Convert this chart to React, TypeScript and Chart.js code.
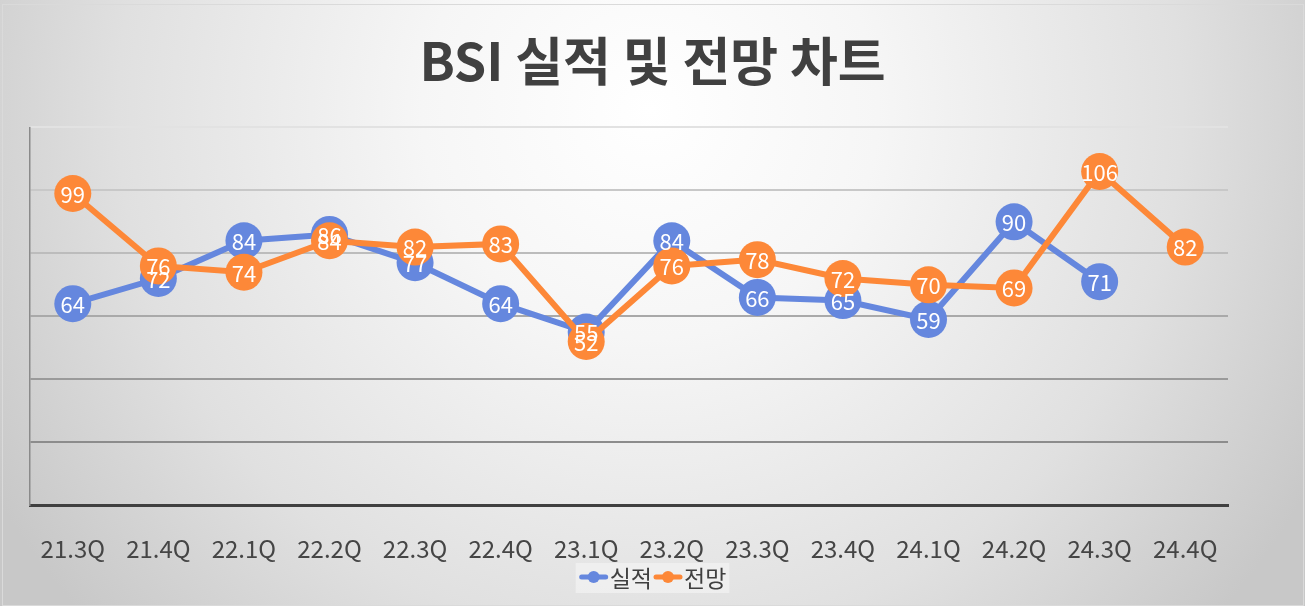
import React, { useEffect, useRef } from 'react';
import { Chart, registerables } from 'chart.js';

Chart.register(...registerables);

const titleText = 'BSI 실적 및 전망 차트';
const categories = ['21.3Q', '21.4Q', '22.1Q', '22.2Q', '22.3Q', '22.4Q', '23.1Q', '23.2Q', '23.3Q', '23.4Q', '24.1Q', '24.2Q', '24.3Q', '24.4Q'];
const seriesNames = ['실적', '전망'];
const actualValues: (number | null)[] = [64, 72, 84, 86, 77, 64, 55, 84, 66, 65, 59, 90, 71, null];
const forecastValues: (number | null)[] = [99, 76, 74, 84, 82, 83, 52, 76, 78, 72, 70, 69, 106, 82];
const yMin = 0;
const yMax = 120;
const yStep = 20;

const BLUE = '#6587DE';
const ORANGE = '#FD8838';
const FONT = "'Noto Sans CJK KR', 'Noto Sans', sans-serif";

const backgroundPlugin = {
  id: 'bgPlugin',
  beforeDraw(chart: any) {
    const { ctx, width, height } = chart;
    ctx.save();
    const grad = ctx.createRadialGradient(650, 110, 0, 650, 110, 760);
    grad.addColorStop(0, '#ffffff');
    grad.addColorStop(0.3, '#f6f6f6');
    grad.addColorStop(0.7, '#e0e0e0');
    grad.addColorStop(1, '#c8c8c8');
    ctx.fillStyle = grad;
    ctx.fillRect(0, 0, width, height);
    ctx.strokeStyle = '#dadada';
    ctx.lineWidth = 1;
    ctx.strokeRect(2.5, 4.5, width - 4, height - 5);
    ctx.restore();
  },
};

// custom legend: marker (line + circle) directly followed by series name
const legendPlugin = {
  id: 'customLegend',
  afterDraw(chart: any) {
    const ctx = chart.ctx;
    ctx.save();
    ctx.font = `23px ${FONT}`;
    const markW = 30;
    const cy = 577;
    const items = chart.data.datasets.map((ds: any) => ({
      label: ds.label as string,
      color: ds.borderColor as string,
      w: ctx.measureText(ds.label).width,
    }));
    const total = items.reduce((s: number, it: any) => s + markW + 1 + it.w + 1, 0);
    const cx = (chart.chartArea.left + chart.chartArea.right) / 2 + 24;
    let x = cx - total / 2;
    ctx.fillStyle = 'rgba(245,245,245,0.65)';
    ctx.fillRect(x - 3, cy - 14, total + 5, 30);
    ctx.textBaseline = 'middle';
    ctx.textAlign = 'left';
    for (const it of items) {
      ctx.strokeStyle = it.color;
      ctx.lineWidth = 5;
      ctx.lineCap = 'round';
      ctx.beginPath();
      ctx.moveTo(x + 3, cy);
      ctx.lineTo(x + markW - 3, cy);
      ctx.stroke();
      ctx.fillStyle = it.color;
      ctx.beginPath();
      ctx.arc(x + markW / 2, cy, 6, 0, Math.PI * 2);
      ctx.fill();
      x += markW + 1;
      ctx.fillStyle = '#404040';
      ctx.fillText(it.label, x, cy + 1);
      x += it.w + 1;
    }
    ctx.restore();
  },
};

const labelPlugin = {
  id: 'pointLabels',
  afterDatasetsDraw(chart: any) {
    const ctx = chart.ctx;
    ctx.save();
    ctx.font = `22px ${FONT}`;
    ctx.fillStyle = '#ffffff';
    ctx.textAlign = 'center';
    ctx.textBaseline = 'middle';
    chart.data.datasets.forEach((ds: any, di: number) => {
      const meta = chart.getDatasetMeta(di);
      meta.data.forEach((el: any, i: number) => {
        const v = ds.data[i];
        if (v === null || v === undefined || el.skip) return;
        ctx.fillText(String(v), el.x, el.y + 1);
      });
    });
    ctx.restore();
  },
};

const gridColorFor = (value: number): string => {
  if (value >= 120) return '#e2e2e2';
  if (value >= 100) return '#c8c8c8';
  if (value >= 80) return '#bcbcbc';
  if (value >= 60) return '#a9a9a9';
  if (value >= 40) return '#9a9a9a';
  if (value >= 20) return '#8c8c8c';
  return 'rgba(0,0,0,0)';
};

export default function App() {
  const ref = useRef<HTMLCanvasElement | null>(null);

  useEffect(() => {
    document.body.style.margin = '0';
    const canvas = ref.current;
    if (!canvas) return;
    const chart = new Chart(canvas, {
      type: 'line',
      data: {
        labels: categories,
        datasets: [
          {
            label: seriesNames[0],
            data: actualValues,
            borderColor: BLUE,
            backgroundColor: BLUE,
            pointBackgroundColor: BLUE,
            pointBorderWidth: 0,
            pointRadius: 18.5,
            borderWidth: 6,
            tension: 0,
            spanGaps: false,
            order: 1,
          },
          {
            label: seriesNames[1],
            data: forecastValues,
            borderColor: ORANGE,
            backgroundColor: ORANGE,
            pointBackgroundColor: ORANGE,
            pointBorderWidth: 0,
            pointRadius: 18.5,
            borderWidth: 6,
            tension: 0,
            order: 0,
          },
        ],
      },
      options: {
        animation: false,
        responsive: true,
        maintainAspectRatio: false,
        layout: { padding: { left: 0, right: 0, top: 0, bottom: 14 } },
        plugins: {
          tooltip: { enabled: false },
          legend: { display: false },
          title: {
            display: true,
            text: titleText,
            color: '#404040',
            font: { family: FONT, size: 52, weight: 'bold' },
            padding: { top: 30, bottom: 35 },
          },
        },
        scales: {
          x: {
            offset: true,
            grid: { display: false, drawTicks: false },
            border: { display: true, color: '#404040', width: 3 },
            ticks: {
              color: '#454545',
              font: { family: FONT, size: 24 },
              padding: 29,
              maxRotation: 0,
              autoSkip: false,
            },
          },
          y: {
            min: yMin,
            max: yMax,
            ticks: { display: false, stepSize: yStep },
            grid: {
              drawTicks: false,
              lineWidth: 2,
              color: (c: any) => gridColorFor(c.tick ? c.tick.value : 0),
            },
            border: { display: true, color: '#8a8a8a', width: 1.5 },
            afterFit: (scale: any) => {
              scale.width = 30;
            },
          },
          yRight: {
            position: 'right',
            display: true,
            min: yMin,
            max: yMax,
            ticks: { display: false },
            grid: { display: false, drawTicks: false },
            border: { display: false },
            afterFit: (scale: any) => {
              scale.width = 77;
            },
          },
        },
      },
      plugins: [backgroundPlugin, labelPlugin, legendPlugin],
    } as any);
    return () => chart.destroy();
  }, []);

  return (
    <div style={{ position: 'relative', width: 1305, height: 606 }}>
      <canvas ref={ref} />
    </div>
  );
}
